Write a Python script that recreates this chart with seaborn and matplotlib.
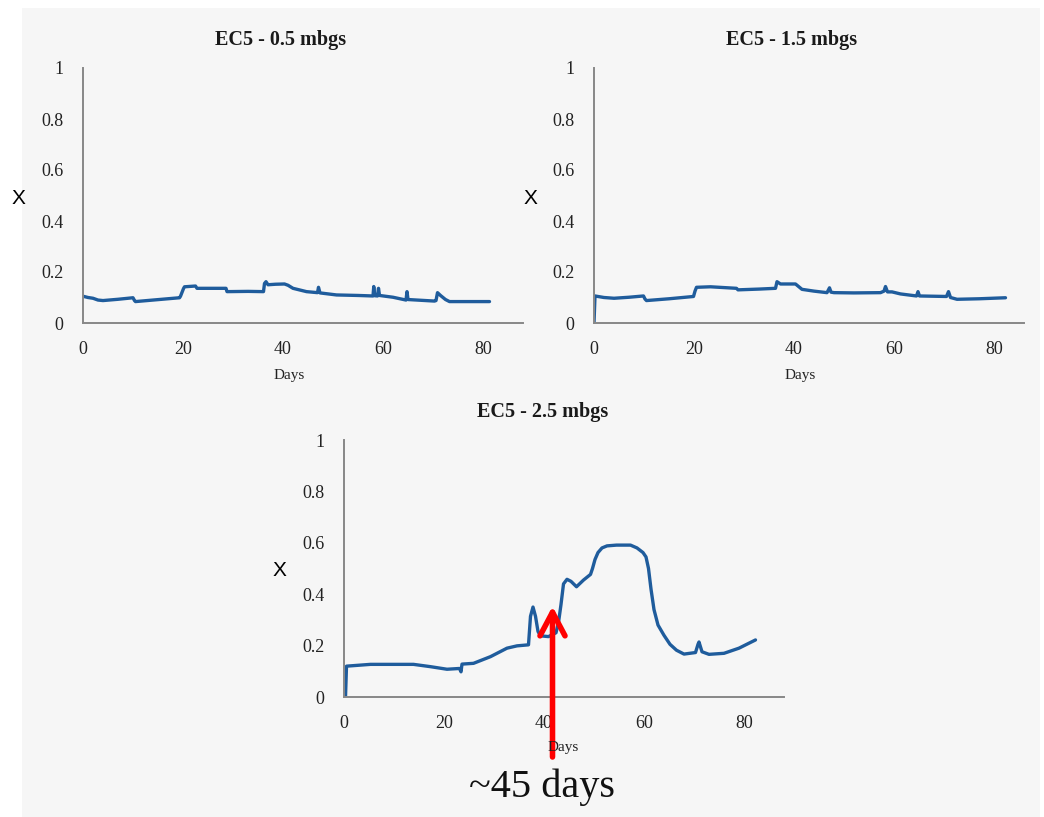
import numpy as np
import pandas as pd
import matplotlib
matplotlib.use("Agg")
import matplotlib.pyplot as plt
from matplotlib.patches import Rectangle
import seaborn as sns

# ---------------- data ----------------
titles = ["EC5 - 0.5 mbgs", "EC5 - 1.5 mbgs", "EC5 - 2.5 mbgs"]
x_ticks = [0, 20, 40, 60, 80]
y_ticks = [0, 0.2, 0.4, 0.6, 0.8, 1]
y_tick_labels = ["0", "0.2", "0.4", "0.6", "0.8", "1"]

days_05 = [0, 1, 2, 3, 4, 7, 10, 10.3, 10.5, 14, 19.3, 19.5, 20.1, 20.3, 22.5, 22.8,
           28.6, 28.8, 33, 36.1, 36.3, 36.6, 37, 38.5, 40.3, 41, 42, 44.7, 46.9,
           47.1, 47.4, 50.7, 55, 58, 58.15, 58.35, 58.9, 59.1, 59.3, 62, 64.6,
           64.8, 65.0, 70.3, 70.6, 70.9, 71.5, 72.5, 73.3, 77, 81.3]
vals_05 = [0.105, 0.100, 0.097, 0.090, 0.088, 0.093, 0.099, 0.088, 0.084, 0.090,
           0.099, 0.105, 0.135, 0.142, 0.145, 0.136, 0.136, 0.123, 0.124, 0.123,
           0.155, 0.162, 0.150, 0.152, 0.153, 0.148, 0.136, 0.123, 0.119, 0.140,
           0.118, 0.110, 0.108, 0.106, 0.143, 0.107, 0.106, 0.136, 0.108, 0.101,
           0.090, 0.123, 0.092, 0.086, 0.088, 0.119, 0.108, 0.092, 0.084, 0.084,
           0.084]

days_15 = [0, 0.2, 2, 4, 7, 9.9, 10.2, 10.5, 15, 19.9, 20.2, 20.5, 23.3, 28.5, 28.8,
           33, 36.3, 36.6, 37.3, 40.3, 41.6, 44, 46.6, 47.1, 47.4, 48, 52, 57.3,
           58.0, 58.3, 58.7, 59.6, 61.3, 64.5, 64.8, 65.1, 70.5, 70.9, 71.3, 72.6,
           77, 82.3]
vals_15 = [0.0, 0.106, 0.100, 0.097, 0.101, 0.106, 0.094, 0.088, 0.095, 0.104,
           0.125, 0.140, 0.142, 0.136, 0.130, 0.133, 0.136, 0.162, 0.153, 0.153,
           0.132, 0.125, 0.119, 0.138, 0.121, 0.119, 0.118, 0.119, 0.125, 0.143,
           0.122, 0.122, 0.114, 0.106, 0.123, 0.106, 0.104, 0.123, 0.100, 0.093,
           0.095, 0.099]

days_25 = [0.3, 0.5, 5.3, 13.9, 17.3, 20.6, 23.1, 23.4, 23.6, 25.9, 29.3, 32.6,
           34.6, 36.9, 37.3, 37.8, 38.3, 38.8, 39.3, 40.9, 42.4, 42.9, 43.4, 43.9,
           44.6, 45.4, 46.5, 47.9, 49.3, 49.7, 50.2, 50.8, 51.6, 52.6, 54.5, 57.3,
           58.6, 59.8, 60.4, 60.9, 61.4, 62.0, 62.8, 64, 65.2, 66.5, 68, 70.3,
           70.8, 71.0, 71.6, 73, 76, 79, 82.3]
vals_25 = [0.0, 0.120, 0.127, 0.127, 0.118, 0.108, 0.111, 0.098, 0.128, 0.131,
           0.157, 0.190, 0.199, 0.203, 0.314, 0.350, 0.314, 0.255, 0.238, 0.235,
           0.250, 0.290, 0.360, 0.440, 0.458, 0.450, 0.429, 0.455, 0.477, 0.500,
           0.535, 0.562, 0.580, 0.588, 0.591, 0.591, 0.580, 0.562, 0.545, 0.500,
           0.420, 0.340, 0.280, 0.240, 0.205, 0.182, 0.167, 0.173, 0.205, 0.214,
           0.176, 0.166, 0.170, 0.190, 0.222]

arrow_day = 41.7
arrow_tip = 0.353
annotation_text = "~45 days"

series = [(days_05, vals_05), (days_15, vals_15), (days_25, vals_25)]

# ---------------- style ----------------
sns.set_style("white")
plt.rcParams["font.family"] = ["Liberation Serif", "DejaVu Serif"]

W, H = 1044, 817
fig = plt.figure(figsize=(W / 100, H / 100), dpi=100)
fig.patch.set_facecolor("white")
fig.patches.append(Rectangle((22 / W, 0), (1040 - 22) / W, 1 - 8 / H,
                             transform=fig.transFigure, facecolor="#f6f6f6",
                             edgecolor="none", zorder=-10))

def fx(px):
    return px / W

def fy(py):
    return 1 - py / H

# axes boxes: (left px, bottom px, width px, height px, xmax)
boxes = [(83, 323, 440, 255, 88), (594, 323, 430, 255, 86), (344, 697, 440, 257, 88)]
title_pos = [(281, 40), (792, 40), (543, 412)]
days_pos = [(289, 375), (800, 375), (563, 747)]
xlab_pos = [(18, 198), (530, 198), (279, 571)]

line_color = "#1f5c9c"
spine_color = "#888888"

axes = []
for i, (l, b, w, h, xmax) in enumerate(boxes):
    ax = fig.add_axes([fx(l), fy(b), w / W, h / H])
    ax.set_facecolor("none")
    d, v = series[i]
    df = pd.DataFrame({"Days": d, "X": v})
    sns.lineplot(data=df, x="Days", y="X", ax=ax, sort=False, estimator=None,
                 color=line_color, linewidth=2.4)
    ax.set_xlim(0, xmax)
    ax.set_ylim(0, 1)
    ax.set_xticks(x_ticks)
    ax.set_xticklabels([str(t) for t in x_ticks])
    ax.set_yticks(y_ticks)
    ax.set_yticklabels(y_tick_labels)
    ax.set_xlabel("")
    ax.set_ylabel("")
    for s in ["top", "right"]:
        ax.spines[s].set_visible(False)
    for s in ["left", "bottom"]:
        ax.spines[s].set_color(spine_color)
        ax.spines[s].set_linewidth(1.4)
    ax.tick_params(axis="both", direction="out", length=6, width=1.2,
                   color=spine_color, labelcolor="#222222", labelsize=13)
    ax.tick_params(axis="y", pad=8)
    ax.tick_params(axis="x", pad=7)
    ax.grid(False)
    axes.append(ax)

    tx, ty = title_pos[i]
    fig.text(fx(tx), fy(ty), titles[i], ha="center", va="center",
             fontsize=14.5, fontweight="bold", color="#1a1a1a")
    dx, dy = days_pos[i]
    fig.text(fx(dx), fy(dy), "Days", ha="center", va="center",
             fontsize=11, color="#222222")
    xx, xy = xlab_pos[i]
    fig.text(fx(xx), fy(xy), "X", ha="center", va="center", fontsize=15,
             family=["Liberation Sans", "DejaVu Sans"], color="black")

# red arrow in bottom panel
ax3 = axes[2]
arrow_base = (697 - 757) / 257
ax3.annotate("", xy=(arrow_day, arrow_tip), xytext=(arrow_day, arrow_base),
             xycoords="data", textcoords="data", annotation_clip=False,
             arrowprops=dict(arrowstyle="->,head_length=0.85,head_width=0.45",
                             color="#ff0000", lw=4.0, mutation_scale=20,
                             shrinkA=0, shrinkB=0))
fig.text(fx(542), fy(787), annotation_text, ha="center", va="center",
         fontsize=29, color="#111111")

fig.savefig("out.png", dpi=100, facecolor=fig.get_facecolor())
